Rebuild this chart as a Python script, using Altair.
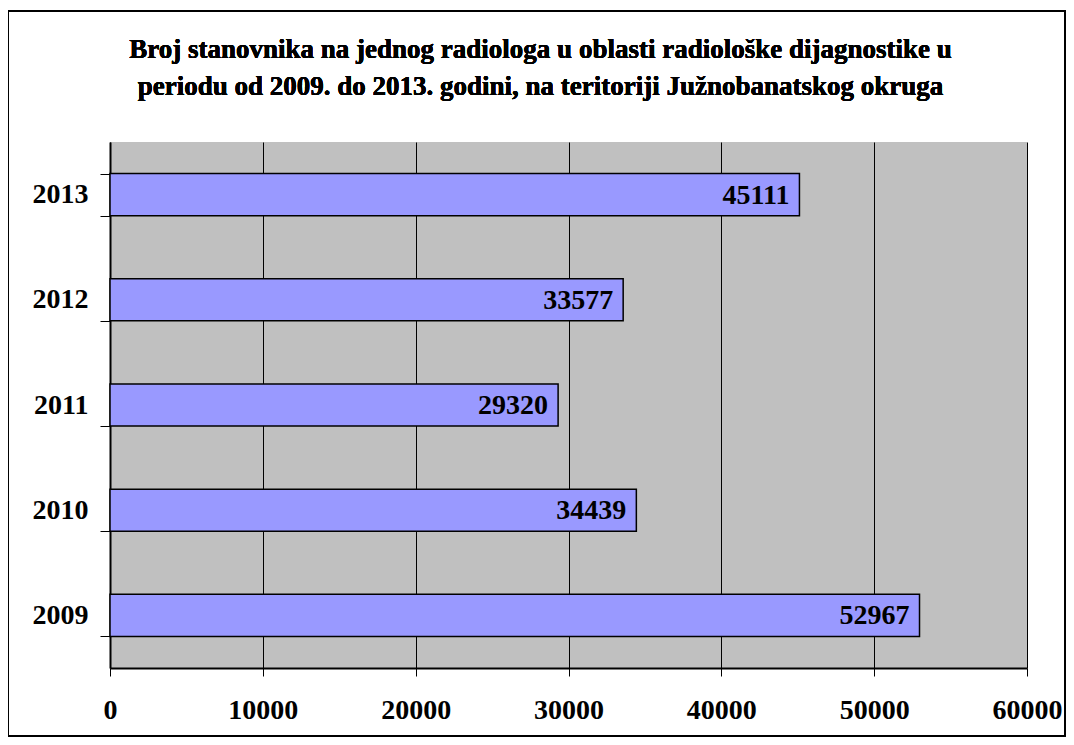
import altair as alt
import pandas as pd

years = ["2009", "2010", "2011", "2012", "2013"]
values = [52967, 34439, 29320, 33577, 45111]
x_ticks = [0, 10000, 20000, 30000, 40000, 50000, 60000]
title_lines = [
    "Broj stanovnika na jednog radiologa u oblasti radiološke dijagnostike u",
    "periodu od 2009. do 2013. godini, na teritoriji Južnobanatskog okruga",
]

df = pd.DataFrame({"year": years, "value": values})

FONT = "Liberation Serif"
W, H = 917, 526
FS = 28

y_enc = alt.Y(
    "year:N",
    sort=alt.SortOrder("descending"),
    scale=alt.Scale(paddingInner=0.6, paddingOuter=0.3),
    axis=alt.Axis(
        title=None,
        labelFont=FONT,
        labelFontSize=FS,
        labelFontWeight="bold",
        labelColor="black",
        labelPadding=12,
        tickBand="extent",
        tickSize=10,
        tickColor="black",
        domainColor="black",
        domainWidth=2,
        grid=False,
    ),
)

x_enc = alt.X(
    "value:Q",
    scale=alt.Scale(domain=[0, 60000], nice=False),
    axis=alt.Axis(
        title=None,
        values=x_ticks,
        format="d",
        labelFont=FONT,
        labelFontSize=FS,
        labelFontWeight="bold",
        labelColor="black",
        labelPadding=20,
        labelFlush=False,
        labelOverlap=False,
        tickSize=8,
        tickColor="black",
        domainColor="black",
        domainWidth=2,
        grid=True,
        gridColor="black",
        gridWidth=1,
        gridOpacity=1,
    ),
)

bars = alt.Chart(df).mark_bar(
    color="#9999FF", stroke="black", strokeWidth=1.5
).encode(x=x_enc, y=y_enc)

labels = alt.Chart(df).mark_text(
    align="right", baseline="middle", dx=-10, dy=1,
    font=FONT, fontSize=FS, fontWeight="bold", color="black"
).encode(x="value:Q", y=alt.Y("year:N", sort=alt.SortOrder("descending")), text="value:Q")

frame = alt.Chart(df).mark_rect(
    fill=None, stroke="black", strokeWidth=1.5, clip=False
).encode(
    x=alt.value(-102), x2=alt.value(W + 38),
    y=alt.value(-131), y2=alt.value(H + 68),
)

title = alt.Chart(df).mark_text(
    align="center", baseline="alphabetic", font=FONT, fontSize=27,
    fontWeight="bold", color="black", lineHeight=37, clip=False
).encode(
    x=alt.value(W / 2 - 28), y=alt.value(-84), text=alt.value(title_lines)
)

chart = alt.layer(frame, bars, labels, title).properties(
    width=W,
    height=H,
    padding={"left": 102, "top": 134, "right": 39, "bottom": 69},
    autosize=alt.AutoSizeParams(type="none"),
).configure(background="white").configure_view(fill="#C0C0C0", stroke=None)

chart.save("out.html", embed_options={"renderer": "svg", "actions": False})
